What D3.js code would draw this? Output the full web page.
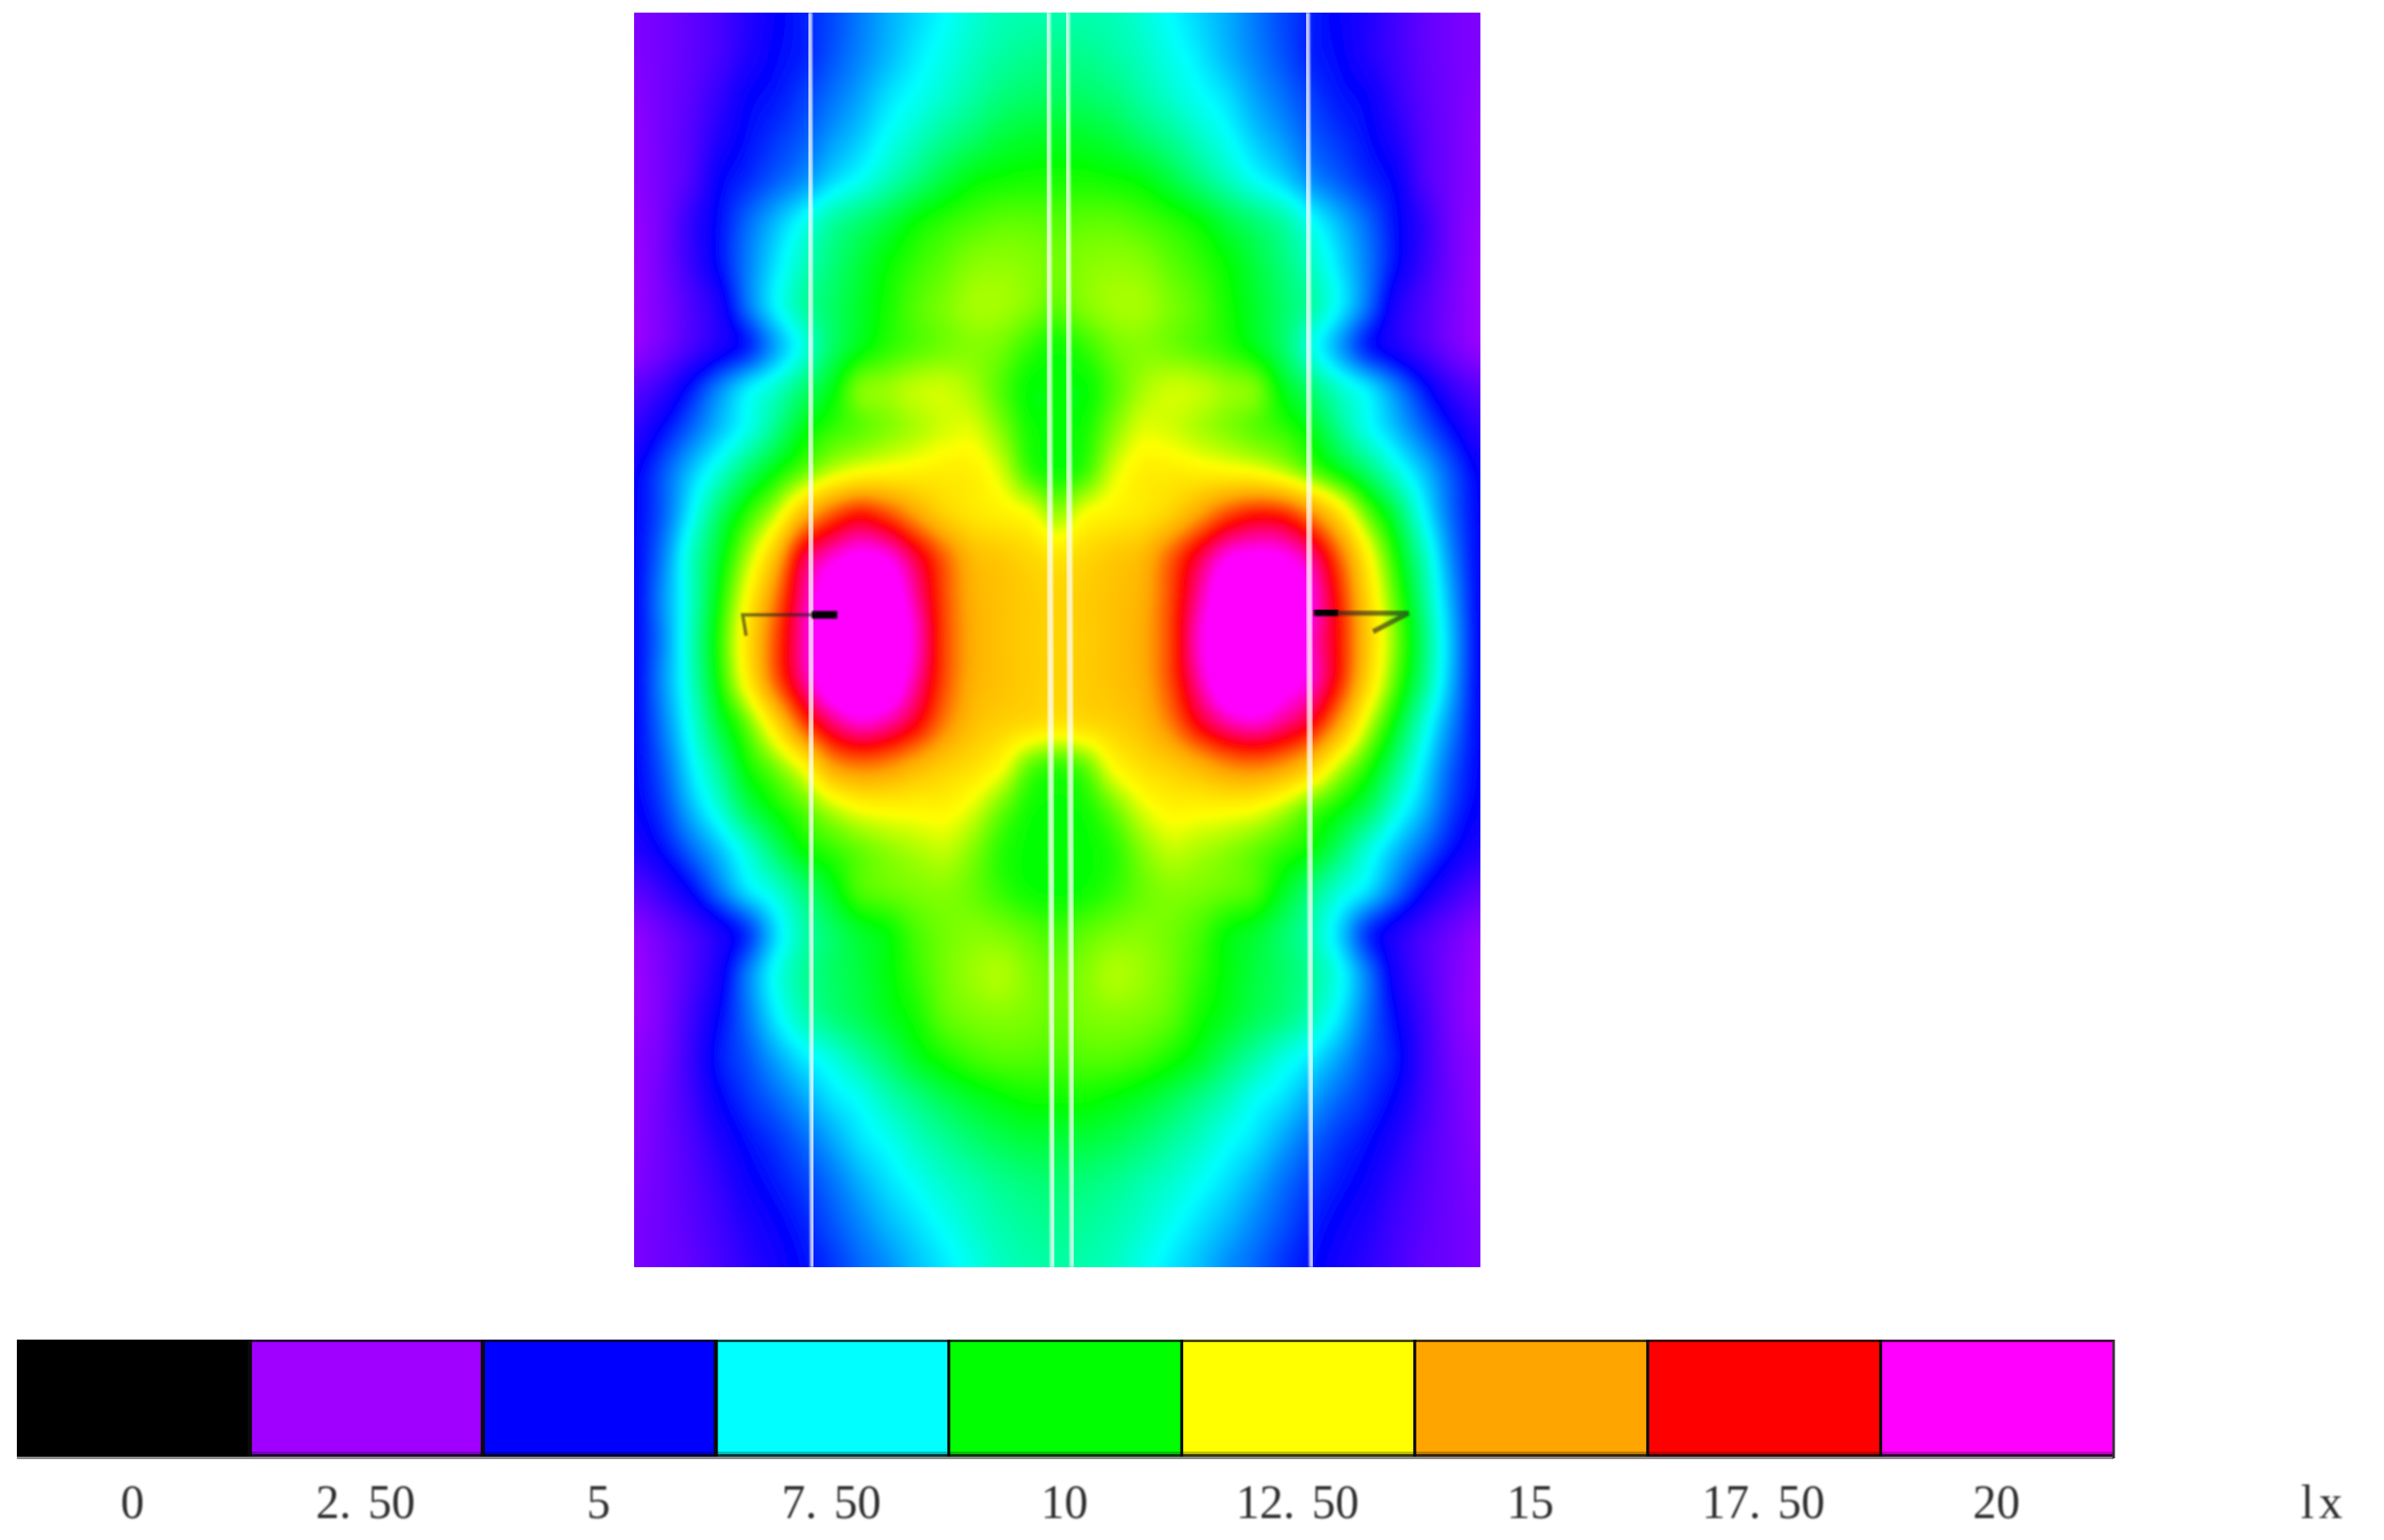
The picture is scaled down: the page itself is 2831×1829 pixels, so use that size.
<!DOCTYPE html>
<html>
<head>
<meta charset="utf-8">
<script src="https://cdn.jsdelivr.net/npm/d3@7"></script>
<style>
  body { margin: 0; background: #fff; }
  svg { display: block; }
  text { font-family: "Liberation Serif", serif; fill: #2e2e2e; }
</style>
</head>
<body>
<div id="chart"></div>
<script>
// Legend
var legendValues = [0, 2.5, 5, 7.5, 10, 12.5, 15, 17.5, 20];
var legendLabels = ["0", "2.50", "5", "7.50", "10", "12.50", "15", "17.50", "20"];
var legendColors = ["#000000", "#a000ff", "#0000ff", "#00ffff", "#00ff00", "#ffff00", "#ffa500", "#ff0000", "#ff00ff"];
var unitLabel = "lx";

// Illuminance, one list per row, top to bottom
var row00 = [3.0,3.2,3.5,3.9,4.4,4.9,5.3,5.7,6.2,6.7,7.1,7.5,7.9,8.2,8.3,8.3,8.3,8.2,7.9,7.5,7.1,6.7,6.2,5.7,5.3,4.9,4.5,4.0,3.5,3.2,3.0];
var row01 = [3.0,3.2,3.5,3.9,4.5,5.0,5.3,5.8,6.3,6.8,7.3,7.7,8.1,8.4,8.6,8.7,8.6,8.4,8.1,7.7,7.3,6.8,6.3,5.8,5.3,5.0,4.5,4.0,3.5,3.2,3.0];
var row02 = [2.9,3.2,3.6,4.2,4.9,5.2,5.6,6.1,6.6,7.2,7.6,8.0,8.4,8.8,9.0,9.1,9.0,8.8,8.4,8.0,7.6,7.2,6.6,6.1,5.6,5.2,4.9,4.2,3.6,3.2,2.9];
var row03 = [2.8,3.2,3.7,4.5,5.1,5.5,5.9,6.5,7.0,7.6,8.1,8.6,9.0,9.4,9.6,9.7,9.6,9.4,9.0,8.6,8.1,7.6,7.0,6.5,5.9,5.5,5.1,4.5,3.7,3.2,2.8];
var row04 = [2.8,3.2,3.8,4.9,5.4,5.9,6.4,7.1,7.6,8.2,8.8,9.4,9.9,10.1,10.2,10.2,10.2,10.1,9.9,9.4,8.8,8.2,7.6,7.1,6.4,5.9,5.4,4.9,3.8,3.2,2.8];
var row05 = [2.7,3.2,4.2,5.1,6.0,6.8,7.6,8.4,8.9,9.4,10.0,10.4,10.7,10.9,10.9,10.8,10.9,10.9,10.7,10.4,10.0,9.4,8.9,8.4,7.6,6.8,6.0,5.1,4.2,3.2,2.7];
var row06 = [2.6,3.2,4.1,5.1,6.2,7.2,8.1,8.8,9.4,10.0,10.5,10.9,11.3,11.4,11.3,11.1,11.3,11.4,11.3,10.9,10.5,10.0,9.4,8.8,8.1,7.2,6.2,5.1,4.1,3.2,2.6];
var row07 = [2.6,3.1,3.8,4.6,6.1,7.4,8.4,9.0,9.6,10.2,10.8,11.2,11.6,11.6,11.3,10.9,11.3,11.6,11.6,11.2,10.8,10.2,9.6,9.0,8.4,7.4,6.1,4.6,3.8,3.1,2.6];
var row08 = [2.7,3.2,3.9,4.6,5.3,6.6,7.8,9.0,9.8,10.4,10.8,11.1,11.3,11.1,10.5,10.1,10.5,11.1,11.3,11.1,10.8,10.4,9.8,9.0,7.8,6.6,5.3,4.6,3.9,3.2,2.7];
var row09 = [3.6,4.2,5.2,6.3,7.3,8.0,8.9,9.8,11.2,11.5,11.9,12.0,11.6,10.8,10.0,10.0,10.0,10.8,11.6,12.0,11.9,11.5,11.2,9.8,8.9,8.0,7.3,6.3,5.2,4.2,3.6];
var row10 = [4.3,5.1,6.0,6.9,7.7,8.7,9.8,10.5,10.9,11.3,11.7,12.1,12.2,11.3,10.2,10.0,10.2,11.3,12.2,12.1,11.7,11.3,10.9,10.5,9.8,8.7,7.7,6.9,6.0,5.1,4.3];
var row11 = [4.9,5.8,6.9,7.9,9.0,10.0,11.0,12.0,12.6,12.8,12.9,13.0,12.9,12.1,10.6,10.1,10.6,12.1,12.9,13.0,12.9,12.8,12.6,12.0,11.0,10.0,9.0,7.9,6.9,5.8,4.9];
var row12 = [5.0,5.9,7.4,9.0,10.4,11.9,14.4,16.2,17.2,16.4,15.0,13.8,13.2,12.9,12.5,11.5,12.5,12.9,13.2,13.8,15.0,16.4,17.2,17.0,15.5,13.4,11.0,9.3,7.5,6.0,5.0];
var row13 = [5.0,6.2,8.0,9.6,11.6,14.2,18.0,19.5,20.2,19.8,18.0,16.0,14.4,14.0,13.6,13.2,13.6,14.0,14.4,16.0,18.0,19.8,20.2,20.0,18.8,16.0,12.8,10.2,8.2,6.3,5.0];
var row14 = [5.0,6.4,8.0,10.0,12.6,15.6,18.9,21.0,21.5,21.0,19.0,16.4,14.7,14.2,13.9,13.7,13.9,14.2,14.7,16.4,19.0,21.0,21.5,21.0,19.8,17.0,13.6,10.8,8.6,6.6,5.0];
var row15 = [5.0,6.3,8.1,10.3,13.2,16.3,19.2,21.5,22.0,21.0,19.5,16.5,14.8,14.2,13.9,13.7,13.9,14.2,14.8,16.5,19.5,21.0,22.0,21.4,19.5,17.2,14.0,11.2,8.9,6.8,5.0];
var row16 = [5.0,6.4,8.0,10.1,12.8,16.0,18.8,21.0,21.5,21.0,19.0,16.4,14.7,14.2,13.9,13.7,13.9,14.2,14.7,16.4,19.0,21.0,21.5,20.5,19.5,17.0,13.6,10.8,8.7,6.7,5.0];
var row17 = [5.0,6.2,7.7,9.4,11.0,13.4,16.4,18.5,19.5,19.0,17.6,15.6,14.3,13.8,13.5,13.2,13.5,13.8,14.3,15.6,17.6,19.0,19.5,18.8,17.6,15.0,12.0,9.8,7.9,6.3,5.0];
var row18 = [5.0,5.9,7.3,8.6,10.1,11.2,12.7,15.0,15.7,15.4,14.6,13.9,13.4,12.6,11.0,10.5,11.0,12.6,13.4,13.9,14.6,15.4,15.7,15.2,14.0,12.0,10.4,8.8,7.3,5.9,5.0];
var row19 = [4.9,5.6,6.8,7.9,9.2,10.1,10.9,11.9,12.6,12.8,12.8,12.8,12.2,11.1,10.2,10.0,10.2,11.1,12.2,12.8,12.8,12.8,12.6,11.9,10.9,10.1,9.2,7.9,6.8,5.6,4.9];
var row20 = [4.5,5.1,6.0,6.9,7.9,9.0,10.0,10.5,11.0,11.4,11.7,11.9,11.3,10.4,10.0,10.0,10.0,10.4,11.3,11.9,11.7,11.4,11.0,10.5,10.0,9.0,7.9,6.9,6.0,5.1,4.5];
var row21 = [3.6,4.2,5.0,6.1,7.2,7.9,8.8,9.7,10.7,11.0,11.2,11.3,11.0,10.5,10.1,10.0,10.1,10.5,11.0,11.3,11.2,11.0,10.7,9.7,8.8,7.9,7.2,6.1,5.0,4.2,3.6];
var row22 = [2.8,3.3,3.9,4.6,5.5,7.1,8.3,9.0,9.6,10.0,10.7,11.1,11.3,11.2,10.9,10.6,10.9,11.2,11.3,11.1,10.7,10.0,9.6,9.0,8.3,7.1,5.5,4.6,3.9,3.3,2.8];
var row23 = [2.6,3.1,3.8,4.7,6.2,7.6,8.5,9.0,9.4,9.9,10.5,11.1,11.5,11.7,11.3,11.0,11.3,11.7,11.5,11.1,10.5,9.9,9.4,9.0,8.5,7.6,6.2,4.7,3.8,3.1,2.6];
var row24 = [2.6,3.1,4.0,5.0,6.1,7.3,8.2,8.8,9.2,9.7,10.2,10.9,11.2,11.3,11.2,11.0,11.2,11.3,11.2,10.9,10.2,9.7,9.2,8.8,8.2,7.3,6.1,5.0,4.0,3.1,2.6];
var row25 = [2.8,3.2,4.1,5.2,5.8,6.6,7.3,7.8,8.4,9.0,9.7,10.2,10.6,10.8,10.8,10.7,10.8,10.8,10.6,10.2,9.7,9.0,8.4,7.8,7.3,6.6,5.8,5.2,4.1,3.2,2.8];
var row26 = [2.8,3.3,4.0,4.9,5.5,6.0,6.6,7.2,7.6,8.2,8.7,9.2,9.6,9.9,10.1,10.1,10.1,9.9,9.6,9.2,8.7,8.2,7.6,7.2,6.6,6.0,5.5,4.9,4.0,3.3,2.8];
var row27 = [2.9,3.3,3.8,4.5,5.1,5.5,6.0,6.6,7.2,7.6,8.1,8.5,8.9,9.2,9.4,9.4,9.4,9.2,8.9,8.5,8.1,7.6,7.2,6.6,6.0,5.5,5.1,4.5,3.8,3.3,2.9];
var row28 = [3.0,3.3,3.7,4.2,4.8,5.2,5.6,6.1,6.7,7.2,7.6,8.0,8.3,8.6,8.8,8.9,8.8,8.6,8.3,8.0,7.6,7.2,6.7,6.1,5.6,5.2,4.8,4.2,3.7,3.3,3.0];
var row29 = [3.1,3.3,3.6,4.0,4.5,4.9,5.3,5.8,6.3,6.8,7.2,7.6,8.0,8.3,8.5,8.6,8.5,8.3,8.0,7.6,7.2,6.8,6.3,5.8,5.3,4.9,4.5,4.0,3.6,3.3,3.1];
var row30 = [3.1,3.3,3.5,3.9,4.3,4.7,5.1,5.5,6.0,6.4,6.9,7.3,7.7,8.1,8.3,8.4,8.3,8.1,7.7,7.3,6.9,6.4,6.0,5.5,5.1,4.7,4.3,3.9,3.5,3.3,3.1];
var field = [row00,row01,row02,row03,row04,row05,row06,row07,row08,row09,row10,row11,row12,row13,row14,row15,
             row16,row17,row18,row19,row20,row21,row22,row23,row24,row25,row26,row27,row28,row29,row30];

// White wires, grid column at top and bottom
var wireTop = [6.21, 14.66, 15.34, 23.85];
var wireBottom = [6.34, 14.85, 15.55, 24.03];

// Black fixture marks, [column, row]
var leftStub = [[6.3, 14.4], [7.2, 14.4]];
var leftArm = [[6.3, 14.4], [3.85, 14.4], [3.97, 14.9]];
var rightStub = [[24.1, 14.34], [24.95, 14.34]];
var rightArm = [[24.95, 14.36], [27.45, 14.36], [26.2, 14.8]];

var width = 2831, height = 1829;
var map = { left: 753, right: 1758, top: 15, bottom: 1505 };
var bar = { left: 20, right: 2510, top: 1591, bottom: 1730 };

var svg = d3.select("#chart").append("svg")
    .attr("width", width)
    .attr("height", height);

var defs = svg.append("defs");
defs.append("clipPath").attr("id", "mapClip").append("rect")
    .attr("x", map.left).attr("y", map.top)
    .attr("width", map.right - map.left).attr("height", map.bottom - map.top);
defs.append("filter").attr("id", "soft").append("feGaussianBlur").attr("stdDeviation", 1);
defs.append("filter").attr("id", "softer").append("feGaussianBlur").attr("stdDeviation", 1.1);
defs.append("filter").attr("id", "mapBlur").append("feGaussianBlur").attr("stdDeviation", 3);

var x = d3.scaleLinear().domain([0, 30]).range([map.left, map.right]);
var y = d3.scaleLinear().domain([0, 30]).range([map.top, map.bottom]);
var color = d3.scaleLinear().domain(legendValues).range(legendColors).clamp(true);

// Catmull-Rom weights, only to get smooth contours between the read values
function cubic(a, b, c, d, t) {
    return 0.5 * (2 * b + (c - a) * t + (2 * a - 5 * b + 4 * c - d) * t * t + (3 * b - a - 3 * c + d) * t * t * t);
}
function at(r, c) {
    r = Math.max(0, Math.min(30, r));
    c = Math.max(0, Math.min(30, c));
    return field[r][c];
}
function sample(gy, gx) {
    var r = Math.floor(gy), c = Math.floor(gx), ty = gy - r, tx = gx - c;
    var cols = [-1, 0, 1, 2].map(function (dr) {
        return cubic(at(r + dr, c - 1), at(r + dr, c), at(r + dr, c + 1), at(r + dr, c + 2), tx);
    });
    return cubic(cols[0], cols[1], cols[2], cols[3], ty);
}

var fine = 5, pad = 6;
var nx = 30 * fine + 1 + 2 * pad, ny = nx;
var grid = new Array(nx * ny);
for (var j = 0; j < ny; j++) {
    for (var i = 0; i < nx; i++) {
        grid[j * nx + i] = sample((j - pad) / fine, (i - pad) / fine);
    }
}

var thresholds = d3.range(1, 24, 0.05);
var contours = d3.contours().size([nx, ny]).thresholds(thresholds)(grid);

var project = d3.geoTransform({
    point: function (px, py) {
        this.stream.point(x((px - 0.5 - pad) / fine), y((py - 0.5 - pad) / fine));
    }
});
var path = d3.geoPath(project);

var mapG = svg.append("g").attr("clip-path", "url(#mapClip)");

mapG.append("g")
    .attr("filter", "url(#mapBlur)")
    .selectAll("path.band")
    .data(contours)
    .enter()
    .append("path")
    .attr("class", "band")
    .attr("d", path)
    .attr("fill", function (d) { return color(d.value + 0.025); });

// Wires
mapG.selectAll("line.wire")
    .data(d3.zip(wireTop, wireBottom))
    .enter()
    .append("line")
    .attr("class", "wire")
    .attr("x1", function (d) { return x(d[0]); })
    .attr("x2", function (d) { return x(d[1]); })
    .attr("y1", y(0))
    .attr("y2", y(30))
    .attr("stroke", "#ffffff")
    .attr("stroke-opacity", 0.75)
    .attr("stroke-width", 7)
    .attr("filter", "url(#soft)");

// Fixture marks
var markLine = d3.line()
    .x(function (d) { return x(d[0]); })
    .y(function (d) { return y(d[1]); });

var marks = mapG.append("g").attr("fill", "none").attr("filter", "url(#soft)");
marks.append("path").attr("d", markLine(leftArm))
    .attr("stroke", "#222").attr("stroke-opacity", 0.6).attr("stroke-width", 4);
marks.append("path").attr("d", markLine(leftStub))
    .attr("stroke", "#000").attr("stroke-width", 9);
marks.append("path").attr("d", markLine(rightArm))
    .attr("stroke", "#222").attr("stroke-opacity", 0.6).attr("stroke-width", 6);
marks.append("path").attr("d", markLine(rightStub))
    .attr("stroke", "#000").attr("stroke-width", 9);

// Legend bar
var band = d3.scaleBand().domain(legendLabels).range([bar.left, bar.right]);
var legend = svg.append("g");

legend.selectAll("rect.swatch")
    .data(legendLabels)
    .enter()
    .append("rect")
    .attr("class", "swatch")
    .attr("x", function (d) { return band(d); })
    .attr("y", bar.top)
    .attr("width", band.bandwidth())
    .attr("height", bar.bottom - bar.top)
    .attr("fill", function (d, i) { return legendColors[i]; });

// dark edge along top and bottom, grey shadow under it
legend.append("rect").attr("x", bar.left).attr("y", bar.top)
    .attr("width", bar.right - bar.left).attr("height", 3)
    .attr("fill", "#000").attr("fill-opacity", 0.72);
legend.append("rect").attr("x", bar.left).attr("y", bar.bottom - 6)
    .attr("width", bar.right - bar.left).attr("height", 3)
    .attr("fill", "#000").attr("fill-opacity", 0.25);
legend.append("rect").attr("x", bar.left).attr("y", bar.bottom - 3)
    .attr("width", bar.right - bar.left).attr("height", 3)
    .attr("fill", "#000").attr("fill-opacity", 0.78);
legend.append("rect").attr("x", bar.left).attr("y", bar.bottom)
    .attr("width", bar.right - bar.left).attr("height", 3)
    .attr("fill", "#8a8a8a");

legend.selectAll("line.divider")
    .data(legendLabels.slice(1))
    .enter()
    .append("line")
    .attr("class", "divider")
    .attr("x1", function (d) { return band(d); })
    .attr("x2", function (d) { return band(d); })
    .attr("y1", bar.top)
    .attr("y2", bar.bottom)
    .attr("stroke", "#0a0a0a")
    .attr("stroke-width", function (d, i) { return i < 3 ? 5 : 3.5; });

legend.append("line")
    .attr("x1", bar.right).attr("x2", bar.right)
    .attr("y1", bar.top).attr("y2", bar.bottom + 2)
    .attr("stroke", "#333").attr("stroke-width", 3);

// Tick labels, the source font sets a wide gap after the dot
var labels = svg.append("g")
    .attr("font-size", 56)
    .attr("text-anchor", "middle")
    .attr("filter", "url(#softer)");

labels.selectAll("text.tick")
    .data(legendLabels)
    .enter()
    .append("text")
    .attr("class", "tick")
    .attr("x", function (d) { return band(d) + band.bandwidth() / 2 - 1; })
    .attr("y", 1803)
    .each(function (d) {
        var parts = d.split(".");
        var t = d3.select(this);
        if (parts.length == 1) { t.text(d); return; }
        t.append("tspan").text(parts[0] + ".");
        t.append("tspan").attr("dx", 20).text(parts[1]);
    });

labels.append("text")
    .attr("x", 2760)
    .attr("y", 1803)
    .attr("letter-spacing", 6)
    .text(unitLabel);
</script>
</body>
</html>
